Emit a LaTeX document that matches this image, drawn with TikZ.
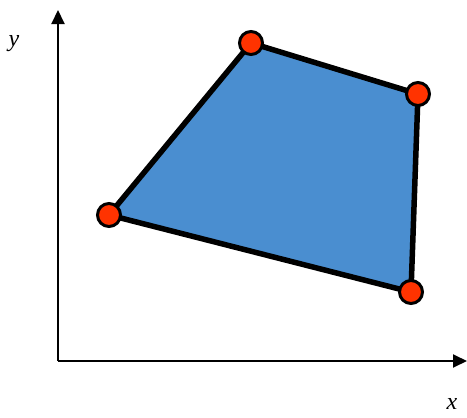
\documentclass[tikz,border=0pt]{standalone}
\usepackage{fontspec}
\setmainfont{Liberation Serif}
\usetikzlibrary{arrows.meta}
\definecolor{ink}{HTML}{000000}
\definecolor{face}{HTML}{4A8ED0}
\definecolor{dot}{HTML}{FF3300}

\tikzset{
  axis/.style={ink,line width=2pt,-{Triangle[length=14pt,width=13pt]}},
  vertex/.style={circle,draw=ink,fill=dot,line width=3pt,minimum size=23pt,inner sep=0pt},
  label/.style={font=\fontsize{24}{28}\selectfont\itshape,text=ink}
}

\begin{document}
\begin{tikzpicture}[x=1pt,y=-1pt]
  \useasboundingbox (0,0) rectangle (467,418);

  \coordinate (O) at (58,361);
  \coordinate (ytip) at (58,10);
  \coordinate (xtip) at (467,361);

  \draw[axis] (O) -- (ytip);
  \draw[axis] (O) -- (xtip);
  \node[label] (ylab) at (14,44) {y};
  \node[label] (xlab) at (452,404) {x};

  \coordinate (A) at (251,43);
  \coordinate (B) at (418,94);
  \coordinate (C) at (411,292);
  \coordinate (D) at (109,215);

  \draw[ink,fill=face,line width=5.5pt,line join=round] (A) -- (B) -- (C) -- (D) -- cycle;

  \node[vertex] (vA) at (A) {};
  \node[vertex] (vB) at (B) {};
  \node[vertex] (vC) at (C) {};
  \node[vertex] (vD) at (D) {};
\end{tikzpicture}
\end{document}
